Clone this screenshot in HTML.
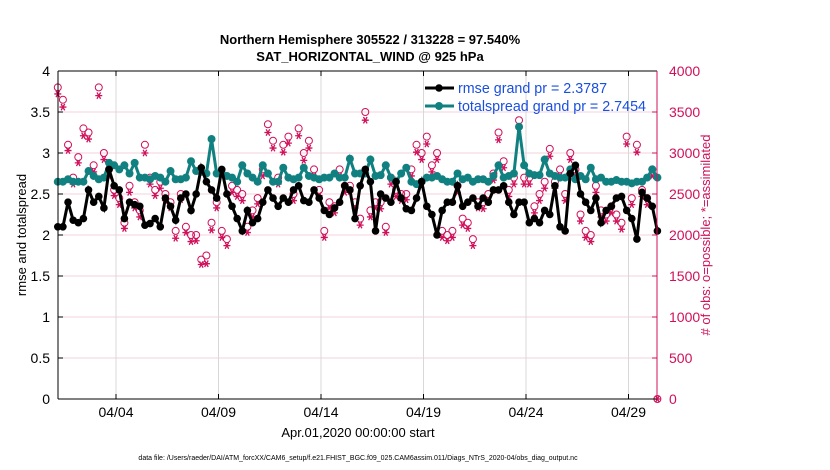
<!DOCTYPE html>
<html><head><meta charset="utf-8"><style>
body{margin:0;background:#fff;}
svg{display:block;font-family:"Liberation Sans",sans-serif;}
</style></head><body>
<svg id="chart" width="830" height="470">
<text x="370" y="44" text-anchor="middle" font-size="13" font-weight="bold">Northern Hemisphere 305522 / 313228 = 97.540%</text>
<text x="370" y="61" text-anchor="middle" font-size="13" font-weight="bold">SAT_HORIZONTAL_WIND @ 925 hPa</text>
<g id="grid"></g><g id="marks"></g><g id="axes"></g>
<text transform="translate(26,235) rotate(-90)" text-anchor="middle" font-size="13">rmse and totalspread</text>
<text transform="translate(710,235) rotate(-90)" text-anchor="middle" font-size="13" fill="#d0105a"># of obs: o=possible; *=assimilated</text>
<text x="358" y="437" text-anchor="middle" font-size="13">Apr.01,2020 00:00:00 start</text>
<text x="358" y="460" text-anchor="middle" font-size="7">data file: /Users/raeder/DAI/ATM_forcXX/CAM6_setup/f.e21.FHIST_BGC.f09_025.CAM6assim.011/Diags_NTrS_2020-04/obs_diag_output.nc</text>
<g>
<line x1="425" y1="88" x2="454" y2="88" stroke="#000" stroke-width="3"/><circle cx="439" cy="88" r="3.8" fill="#000"/>
<text x="458" y="93" font-size="14.3" fill="#1a4fe0">rmse grand pr = 2.3787</text>
<line x1="425" y1="106" x2="454" y2="106" stroke="#118080" stroke-width="3"/><circle cx="439" cy="106" r="4" fill="#118080"/>
<text x="458" y="111" font-size="14.3" fill="#1a4fe0">totalspread grand pr = 2.7454</text>
</g>
</svg>
<script>
const rmse=[2.1,2.1,2.4,2.18,2.15,2.2,2.55,2.4,2.47,2.33,2.8,2.6,2.55,2.2,2.4,2.37,2.35,2.12,2.14,2.2,2.1,2.45,2.35,2.18,2.45,2.5,2.3,2.5,2.82,2.65,
2.55,2.45,2.8,2.5,2.35,2.2,2.05,2.3,2.15,2.2,2.4,2.55,2.45,2.35,2.45,2.4,2.55,2.6,2.42,2.4,2.55,2.45,2.3,2.25,2.33,2.4,2.6,2.55,2.2,2.6,
2.8,2.65,2.05,2.5,2.45,2.4,2.65,2.45,2.32,2.3,2.45,2.65,2.35,2.25,2.0,2.3,2.4,2.4,2.6,2.35,2.4,2.45,2.35,2.45,2.4,2.55,2.55,2.6,2.4,2.25,
2.4,2.4,2.15,2.2,2.15,2.3,2.25,2.6,2.1,2.05,2.75,2.85,2.5,2.4,2.3,2.45,2.15,2.3,2.35,2.45,2.47,2.3,2.2,1.95,2.52,2.45,2.35,2.05];
const spread=[2.65,2.65,2.68,2.65,2.65,2.65,2.78,2.72,2.68,2.7,2.88,2.85,2.8,2.85,2.75,2.88,2.7,2.7,2.68,2.72,2.7,2.65,2.78,2.68,2.68,2.7,2.9,2.78,2.77,2.75,
3.17,2.75,2.75,2.72,2.7,2.65,2.85,2.75,2.7,2.65,2.85,2.75,2.65,2.65,2.82,2.7,2.68,2.7,2.82,2.72,2.7,2.68,2.7,2.7,2.75,2.7,2.7,2.93,2.75,2.75,
2.75,2.92,2.72,2.73,2.85,2.7,2.65,2.75,2.82,2.65,2.62,2.65,2.7,2.7,2.72,2.68,2.65,2.65,2.75,2.68,2.7,2.65,2.68,2.68,2.65,2.72,2.85,2.7,2.72,2.75,
3.32,2.85,2.75,2.73,2.73,2.92,2.75,2.72,2.7,2.7,2.8,2.68,2.72,2.68,2.82,2.68,2.7,2.65,2.65,2.67,2.65,2.65,2.63,2.65,2.65,2.7,2.8,2.7];
const possible=[3800,3650,3100,2700,2950,3300,3250,2850,3800,3000,2800,2550,2450,2150,2600,2400,2300,3100,2700,2550,2650,2500,2400,2050,2500,2100,2000,2000,1700,1750,
2150,2400,2050,1950,2600,2550,2500,2100,2300,2450,2800,3350,3150,2700,3100,3200,2500,3300,3000,3150,2800,2550,2050,2400,2350,2800,2600,2600,2400,2200,
3500,2300,2400,2400,2100,2700,2550,2500,2500,2800,3100,3000,3200,2850,3000,2050,2000,2050,2600,2200,2150,1950,2400,2400,2500,2750,3250,2900,2550,2700,
3400,2700,2700,2350,2500,2650,3050,2650,2800,2500,3000,2800,2250,2050,2000,2600,2300,2250,2350,2250,2150,3200,2450,3100,2550,2450,2800,0];
const assimilated=[3720,3560,3030,2620,2880,3210,3170,2770,3700,2920,2720,2480,2370,2080,2520,2330,2220,3000,2620,2480,2570,2420,2330,1960,2430,2030,1920,1930,1640,1650,
2060,2330,1970,1870,2520,2470,2420,2030,2220,2380,2720,3250,3060,2620,3010,3120,2420,3210,2910,3060,2720,2480,1970,2330,2270,2720,2520,2530,2330,2120,
3400,2220,2330,2320,2030,2620,2470,2420,2430,2720,3010,2920,3110,2770,2920,1970,1930,1970,2520,2120,2080,1870,2330,2320,2420,2670,3160,2820,2470,2620,
3300,2620,2620,2270,2420,2570,2960,2570,2720,2420,2920,2720,2170,1970,1920,2520,2220,2170,2270,2170,2070,3110,2370,3010,2470,2370,2720,0];
const yTicks=[0,0.5,1,1.5,2,2.5,3,3.5,4];
const rTicks=[0,500,1000,1500,2000,2500,3000,3500,4000];
const xTickDays=[3,8,13,18,23,28];
const xTickLabels=["04/04","04/09","04/14","04/19","04/24","04/29"];
const t0=0.16, dt=0.25;

const L=58,R=657,T=71,B=399;
const xs=d=>54.5+d*20.5;
const ys=v=>B-(v/4)*(B-T);
const yr=v=>B-(v/4000)*(B-T);
const NS='http://www.w3.org/2000/svg';
function mk(tag,attrs,parent){const e=document.createElementNS(NS,tag);for(const k in attrs)e.setAttribute(k,attrs[k]);parent.appendChild(e);return e;}
const grid=document.getElementById('grid'),marks=document.getElementById('marks'),axes=document.getElementById('axes');
yTicks.forEach((v,i)=>{
  if(v>0&&v<4){const g=mk('line',{x1:L,x2:R,y1:ys(v),y2:ys(v),stroke:'#f3d0dc','stroke-width':1},grid);
  
  }
  const t=mk('text',{x:L-8,y:ys(v)+5,'text-anchor':'end','font-size':14},axes);t.textContent=String(v);
  
  
  mk('line',{x1:L,x2:L+5,y1:ys(v),y2:ys(v),stroke:'#000'},axes);
});
rTicks.forEach(v=>{
  const t=mk('text',{x:R+12,y:yr(v)+5,'font-size':14,fill:'#d0105a'},axes);t.textContent=String(v);
  
  
  mk('line',{x1:R-5,x2:R,y1:yr(v),y2:yr(v),stroke:'#d0105a'},axes);
});
xTickDays.forEach((d,i)=>{
  const g=mk('line',{x1:xs(d),x2:xs(d),y1:T,y2:B,stroke:'#d8d8d8'},grid);
  
  
  const t=mk('text',{x:xs(d),y:417,'text-anchor':'middle','font-size':14},axes);t.textContent=xTickLabels[i];
  
  
  mk('line',{x1:xs(d),x2:xs(d),y1:B,y2:B-5,stroke:'#000'},axes);
  mk('line',{x1:xs(d),x2:xs(d),y1:T,y2:T+5,stroke:'#000'},axes);
});
mk('line',{x1:L,x2:R,y1:T,y2:T,stroke:'#000'},axes);
mk('line',{x1:L,x2:R,y1:B,y2:B,stroke:'#000'},axes);
mk('line',{x1:L,x2:L,y1:T,y2:B,stroke:'#000'},axes);
mk('line',{x1:R,x2:R,y1:T,y2:B,stroke:'#d0105a'},axes);
possible.forEach((v,i)=>{
  const c=mk('circle',{cx:xs(t0+i*dt),cy:yr(v),r:3.5,fill:'none',stroke:'#d0105a','stroke-width':1},marks);
  
  
});
assimilated.forEach((v,i)=>{
  const cx=xs(t0+i*dt),cy=yr(v);
  const d=`M${cx-3.5},${cy}H${cx+3.5}M${cx-1.8},${cy-3.2}L${cx+1.8},${cy+3.2}M${cx+1.8},${cy-3.2}L${cx-1.8},${cy+3.2}`;
  const s=mk('path',{d:d,stroke:'#d0105a','stroke-width':1.3,fill:'none'},marks);
  
  
});
function series(arr,color,r,name){
  const p=mk('polyline',{points:arr.map((v,i)=>xs(t0+i*dt)+','+ys(v)).join(' '),fill:'none',stroke:color,'stroke-width':3},marks);
  
  
  arr.forEach((v,i)=>{
    const c=mk('circle',{cx:xs(t0+i*dt),cy:ys(v),r:r,fill:color},marks);
    
    
  });
}
series(spread,'#118080',4,'totalspread');
series(rmse,'#000',3.8,'rmse');
</script>
</body></html>
